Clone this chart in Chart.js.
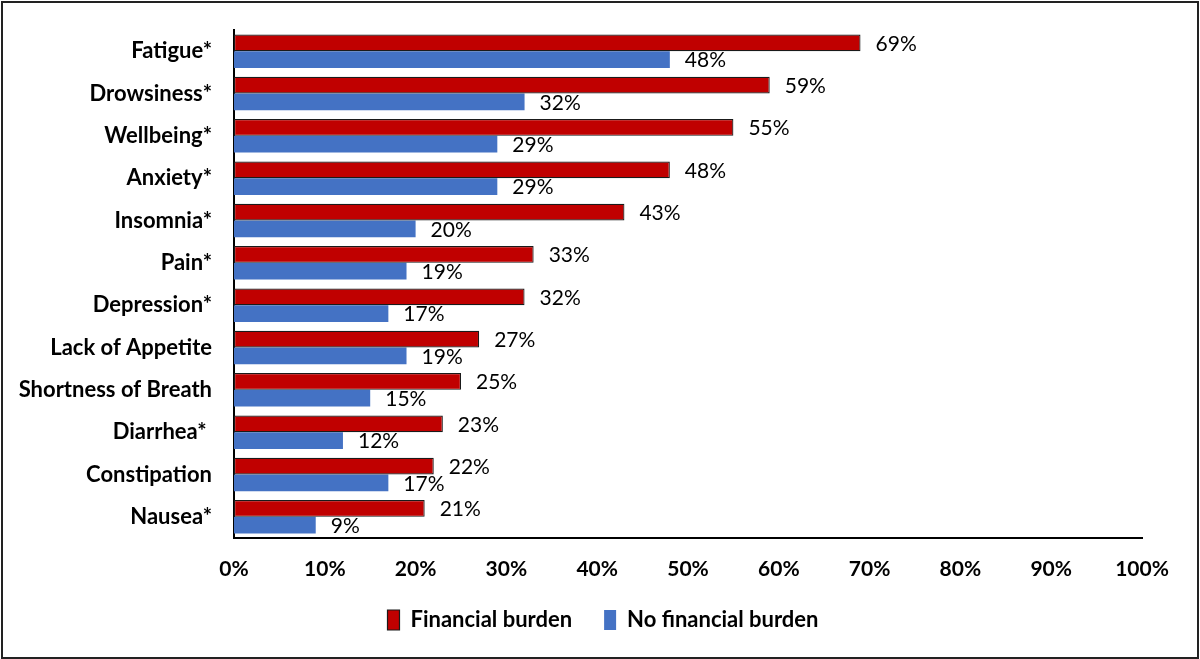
<!DOCTYPE html>
<html>
<head>
<meta charset="utf-8">
<script src="https://cdn.jsdelivr.net/npm/chart.js@4/dist/chart.umd.min.js"></script>
<style>
  html, body { margin: 0; padding: 0; background: #fff; }
  #wrap { position: relative; width: 1200px; height: 659px; }
  #frame { position: absolute; left: 1px; top: 1px; width: 1194px; height: 654px; border: 2px solid #222; pointer-events: none; }
</style>
</head>
<body>
<div id="wrap">
  <canvas id="myChart" width="1200" height="659"></canvas>
  <div id="frame"></div>
</div>
<script>
// symptoms, top to bottom
const symptoms = [
  'Fatigue*', 'Drowsiness*', 'Wellbeing*', 'Anxiety*', 'Insomnia*', 'Pain*',
  'Depression*', 'Lack of Appetite', 'Shortness of Breath', 'Diarrhea* ',
  'Constipation', 'Nausea*'
];
const financialBurden = [69, 59, 55, 48, 43, 33, 32, 27, 25, 23, 22, 21];
const noFinancialBurden = [48, 32, 29, 29, 20, 19, 17, 19, 15, 12, 17, 9];
const xTicks = [0, 10, 20, 30, 40, 50, 60, 70, 80, 90, 100];

const FONT = 'Lato, "Open Sans", sans-serif';

// draw the value labels next to each bar
const barLabels = {
  id: 'barLabels',
  afterDatasetsDraw(chart) {
    const ctx = chart.ctx;
    ctx.save();
    ctx.font = '21px ' + FONT;
    ctx.fillStyle = '#000';
    ctx.textAlign = 'left';
    ctx.textBaseline = 'middle';
    chart.data.datasets.forEach((ds, i) => {
      chart.getDatasetMeta(i).data.forEach((bar, j) => {
        ctx.fillText(ds.data[j] + '%', bar.x + 15, bar.y + 1);
      });
    });
    ctx.restore();
  }
};

// nudge the legend so it is centred like the original
const legendShift = {
  id: 'legendShift',
  afterLayout(chart) {
    if (chart.legend) chart.legend.left = 64;
  }
};

new Chart('myChart', {
  type: 'bar',
  data: {
    labels: symptoms,
    datasets: [
      {
        label: 'Financial burden',
        data: financialBurden,
        backgroundColor: '#C00000',
        borderColor: '#1a1a1a',
        borderWidth: 1.2,
        borderSkipped: false,
        categoryPercentage: 0.79,
        barPercentage: 1.0
      },
      {
        label: 'No financial burden',
        data: noFinancialBurden,
        backgroundColor: '#4472C4',
        borderWidth: 0,
        categoryPercentage: 0.79,
        barPercentage: 1.0
      }
    ]
  },
  options: {
    indexAxis: 'y',
    responsive: false,
    animation: false,
    layout: { padding: { left: 0, top: 30, right: 58, bottom: 18 } },
    scales: {
      x: {
        min: 0,
        max: 100,
        afterBuildTicks: (axis) => { axis.ticks = xTicks.map(v => ({ value: v })); },
        grid: { display: false, drawTicks: false },
        border: { display: true, color: '#000', width: 2 },
        ticks: {
          padding: 19,
          color: '#000',
          font: { family: FONT, size: 21, weight: 'bold' },
          callback: (v) => v + '%'
        },
        afterFit: (axis) => { axis.height = 39; }
      },
      y: {
        grid: { display: false, drawTicks: false },
        border: { display: true, color: '#000', width: 2 },
        ticks: {
          padding: 22,
          color: '#000',
          font: { family: FONT, size: 22, weight: 'bold' }
        },
        afterFit: (axis) => {
          axis.width = 234;
          axis.paddingTop = 0;
          axis.paddingBottom = 0;
        }
      }
    },
    plugins: {
      legend: {
        position: 'bottom',
        labels: {
          color: '#000',
          font: { family: FONT, size: 22, weight: 'bold' },
          boxWidth: 12,
          boxHeight: 20,
          padding: 32
        }
      },
      tooltip: { enabled: false }
    }
  },
  plugins: [barLabels, legendShift]
});
</script>
</body>
</html>
